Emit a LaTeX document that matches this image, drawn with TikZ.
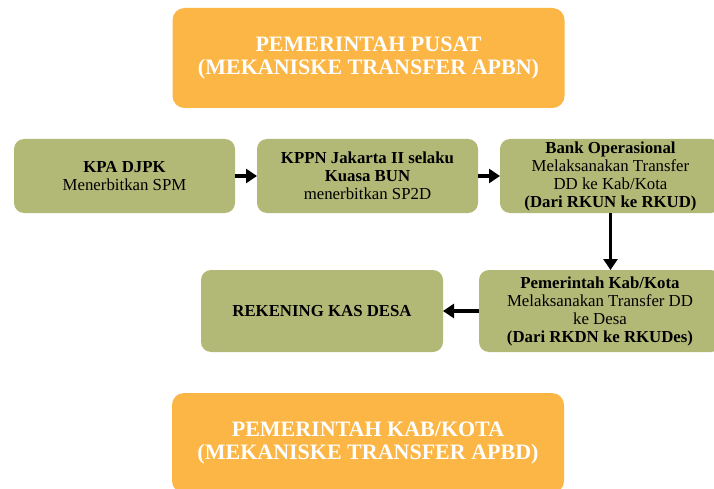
\documentclass[tikz,border=0pt]{standalone}
\usepackage{fontspec}
\setmainfont{Liberation Serif}
\usetikzlibrary{arrows.meta, positioning}

\definecolor{boxgreen}{HTML}{B2B977}
\definecolor{boxorange}{HTML}{FCB645}

\begin{document}
\begin{tikzpicture}[
            x = 1pt, y = -1pt, % one unit per pixel, downwards
            > = {Triangle[length=11pt, width=14pt]}, % arrow head style
            line width = 4pt, % arrow line style
            node distance = 22pt % gap between boxes in a row
        ]

        \tikzstyle{greenbox}=[
            rounded corners = 10pt,
            fill = boxgreen,
            minimum width = 221pt,
            minimum height = 74pt,
            align = center,
            inner sep = 2pt,
            outer sep = 0pt,
            font = \fontsize{16.8}{18}\selectfont
        ]
        \tikzstyle{orangebox}=[
            rounded corners = 12pt,
            fill = boxorange,
            text = white,
            minimum width = 392pt,
            minimum height = 100pt,
            align = center,
            outer sep = 0pt,
            font = \fontsize{22}{22.5}\selectfont\bfseries
        ]

        \useasboundingbox (0,0) rectangle (714,489);

        \node[orangebox] (pusat) at (368.5,58) {PEMERINTAH PUSAT\\(MEKANISKE TRANSFER APBN)};

        \node[greenbox] (kpa) at (124.5,176) {\textbf{KPA DJPK}\\Menerbitkan SPM};
        \node[greenbox] (kppn) [right=of kpa] {\textbf{KPPN Jakarta II selaku}\\\textbf{Kuasa BUN}\\menerbitkan SP2D};
        \node[greenbox] (bank) [right=of kppn] {\textbf{Bank Operasional}\\Melaksanakan Transfer\\DD ke Kab/Kota\\\textbf{(Dari RKUN ke RKUD)}};

        \node[greenbox, minimum width=242pt, minimum height=82pt] (pemkab) at (600,311) {\textbf{Pemerintah Kab/Kota}\\Melaksanakan Transfer DD\\ke Desa\\\textbf{(Dari RKDN ke RKUDes)}};
        \node[greenbox, minimum width=242pt, minimum height=82pt] (rekening) at (322,311) {\textbf{REKENING KAS DESA}};

        \node[orangebox] (kabkota) at (368,443) {PEMERINTAH KAB/KOTA\\(MEKANISKE TRANSFER APBD)};

        \path[->] (kpa) edge (kppn);
        \path[->] (kppn) edge (bank);
        \path[->, line width=3.5pt] (bank) edge (bank |- pemkab.north);
        \path[->] (pemkab) edge (rekening);

  \end{tikzpicture}
\end{document}
